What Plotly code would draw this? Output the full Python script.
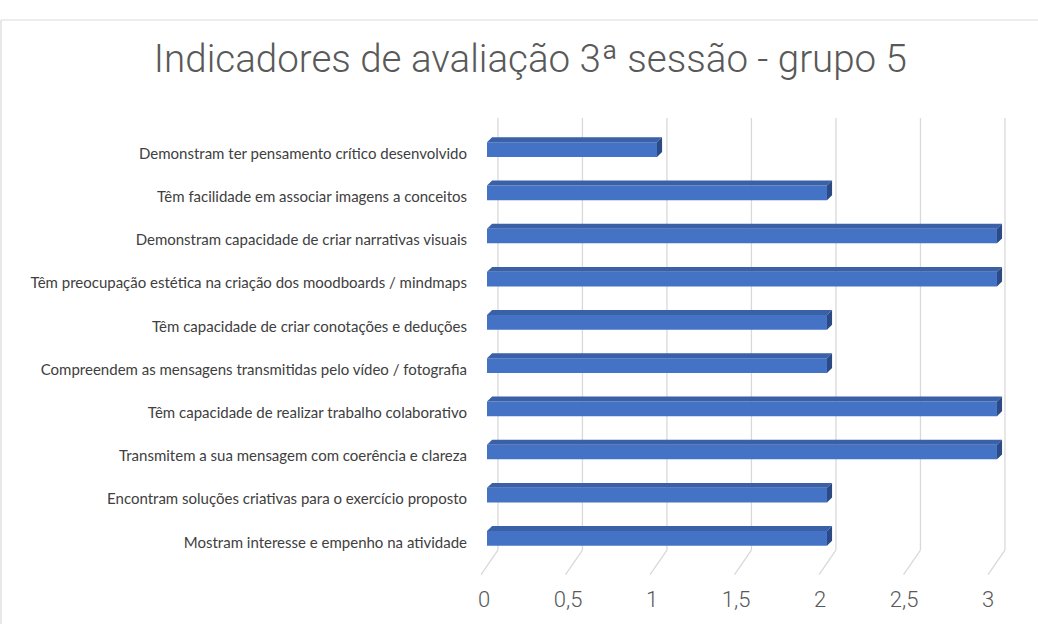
import plotly.graph_objects as go

categories = [
    "Demonstram ter pensamento crítico desenvolvido",
    "Têm facilidade em associar imagens a conceitos",
    "Demonstram capacidade de criar narrativas visuais",
    "Têm preocupação estética na criação dos moodboards / mindmaps",
    "Têm capacidade de criar conotações e deduções",
    "Compreendem as mensagens transmitidas pelo vídeo / fotografia",
    "Têm capacidade de realizar trabalho colaborativo",
    "Transmitem a sua mensagem com coerência e clareza",
    "Encontram soluções criativas para o exercício proposto",
    "Mostram interesse e empenho na atividade",
]
values = [1, 2, 3, 3, 2, 2, 3, 3, 2, 2]
tick_vals = [0, 0.5, 1, 1.5, 2, 2.5, 3]
tick_text = ["0", "0,5", "1", "1,5", "2", "2,5", "3"]

BAR_W = 0.34
DX = 0.03      # depth in x data units
DY = 0.115     # depth in category units
idx = list(range(len(categories)))

fig = go.Figure()
fig.add_trace(go.Bar(
    x=values, y=idx, orientation="h",
    width=BAR_W, marker=dict(color="#4472C4", line=dict(width=0)),
    hoverinfo="x", showlegend=False,
))
fig.add_trace(go.Scatter(x=[0, 3], y=[0, 0], xaxis="x2", mode="markers",
                         marker=dict(opacity=0), showlegend=False, hoverinfo="skip"))
fig.add_trace(go.Scatter(x=[0, 3], y=[0, 0], xaxis="x3", mode="markers",
                         marker=dict(opacity=0), showlegend=False, hoverinfo="skip"))
fig.add_trace(go.Scatter(x=[0, 0], y=[0, 9], yaxis="y2", mode="markers",
                         marker=dict(opacity=0), showlegend=False, hoverinfo="skip"))

shapes = []
# back-wall gridlines and floor diagonals
for t in tick_vals:
    shapes.append(dict(type="line", xref="x2", yref="paper", layer="below",
                       x0=t, y0=0.023, x1=t, y1=1.023,
                       line=dict(color="#d9d9d9", width=1.3)))
    shapes.append(dict(type="line", xref="x2", yref="paper", layer="below",
                       x0=t, y0=0.023, x1=t - 0.1, y1=-0.034,
                       line=dict(color="#d9d9d9", width=1.3)))

for i, v in enumerate(values):
    yt = i - BAR_W / 2
    yb = i + BAR_W / 2
    shapes.append(dict(
        type="path", xref="x", yref="y", layer="above",
        path=f"M 0,{yt} L {DX},{yt - DY} L {v + DX},{yt - DY} L {v},{yt} Z",
        fillcolor="#3a60a8", line=dict(width=0)))
    shapes.append(dict(
        type="path", xref="x", yref="y", layer="above",
        path=f"M {v},{yt} L {v + DX},{yt - DY} L {v + DX},{yb - DY} L {v},{yb} Z",
        fillcolor="#2b4a86", line=dict(width=0)))

# chart border
shapes.append(dict(type="line", xref="paper", yref="paper", layer="below",
                   x0=-0.9, y0=1.25, x1=1.2, y1=1.25,
                   line=dict(color="#d9d9d9", width=1.2)))
shapes.append(dict(type="line", xref="paper", yref="paper", layer="below",
                   x0=-0.9, y0=-0.3, x1=-0.9, y1=1.25,
                   line=dict(color="#d9d9d9", width=1.2)))

fig.update_layout(
    width=1038, height=624,
    margin=dict(l=478, r=30, t=128, b=59),
    paper_bgcolor="white", plot_bgcolor="white",
    title=dict(text="Indicadores de avaliação 3ª sessão - grupo 5",
               x=0.511, xref="container", xanchor="center",
               y=0.907, yref="container", yanchor="middle",
               font=dict(family="Roboto", size=38.5, color="#595959", weight=300)),
    xaxis=dict(range=[-0.053, 3.065], showgrid=False, zeroline=False,
               showticklabels=False, fixedrange=True),
    xaxis2=dict(overlaying="x", range=[-0.118, 3.018], showgrid=False,
                showticklabels=False, zeroline=False, side="top"),
    xaxis3=dict(overlaying="x", range=[-0.036, 3.119], showgrid=False,
                zeroline=False, tickvals=tick_vals, ticktext=tick_text,
                ticks="outside", ticklen=20, tickcolor="rgba(0,0,0,0)",
                tickfont=dict(family="Roboto", size=22, color="#595959", weight=300),
                side="bottom"),
    yaxis=dict(range=[9.5, -0.5], showgrid=False, zeroline=False,
               showticklabels=False),
    yaxis2=dict(overlaying="y", side="left", range=[9.41, -0.59],
                tickvals=idx, ticktext=categories, showgrid=False, zeroline=False,
                ticks="outside", ticklen=7, tickcolor="rgba(0,0,0,0)",
                tickfont=dict(family="Lato", size=15, color="#404040")),
    shapes=shapes,
)

fig.write_html("out.html", config={"displayModeBar": False},
               post_script="document.body.style.margin='0';document.body.style.overflow='hidden';")
